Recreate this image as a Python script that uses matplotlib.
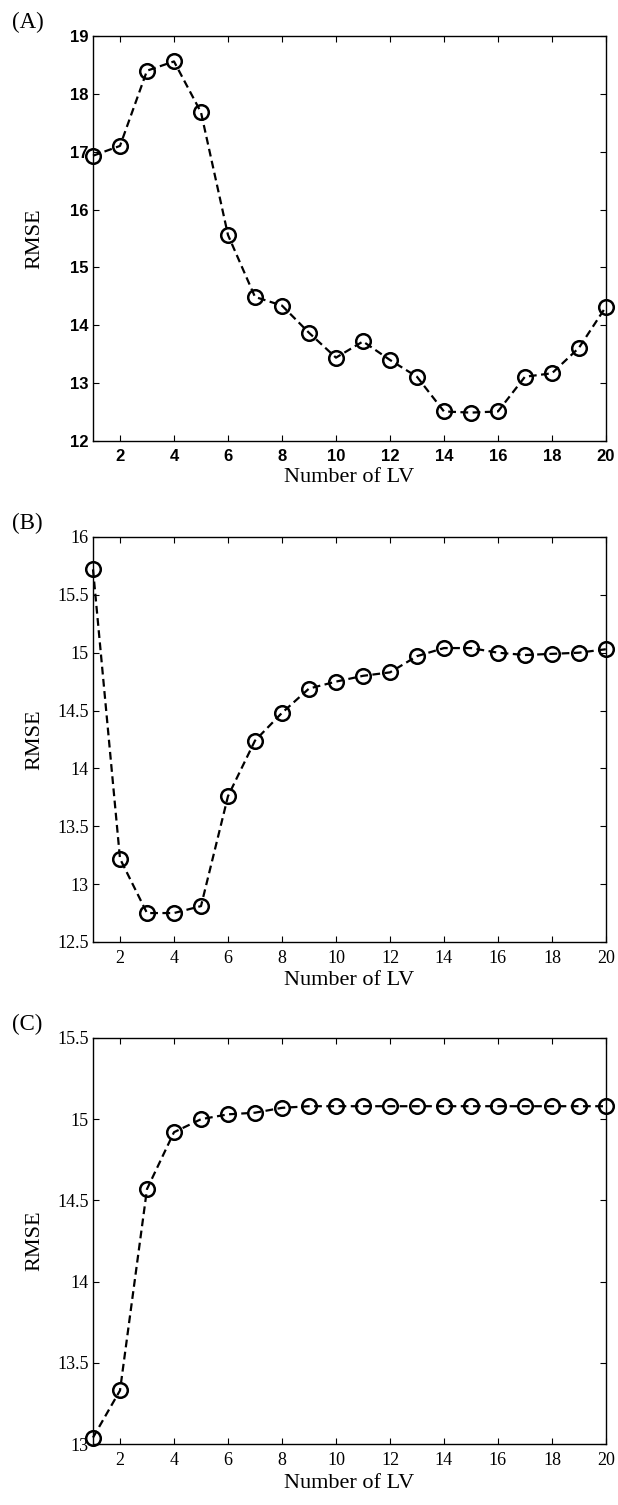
import matplotlib
matplotlib.use("Agg")
import matplotlib.pyplot as plt
import numpy as np

plt.rcParams['font.family'] = ['Liberation Serif', 'DejaVu Serif']

lv = np.arange(1, 21)

# RMSE against number of latent variables for the three models
rmse_a = [16.93, 17.10, 18.40, 18.56, 17.68, 15.56, 14.49, 14.34, 13.87, 13.44,
          13.72, 13.40, 13.11, 12.51, 12.49, 12.51, 13.11, 13.17, 13.61, 14.32]
rmse_b = [15.72, 13.22, 12.75, 12.75, 12.81, 13.76, 14.24, 14.48, 14.69, 14.75,
          14.80, 14.83, 14.97, 15.04, 15.04, 15.00, 14.98, 14.99, 15.00, 15.03]
rmse_c = [13.04, 13.33, 14.57, 14.92, 15.00, 15.03, 15.04, 15.07, 15.08, 15.08,
          15.08, 15.08, 15.08, 15.08, 15.08, 15.08, 15.08, 15.08, 15.08, 15.08]

panels = ['(A)', '(B)', '(C)']
ylims = [(12, 19), (12.5, 16), (13, 15.5)]
yticks = [np.arange(12, 19.1, 1), np.arange(12.5, 16.01, 0.5), np.arange(13, 15.51, 0.5)]
xticks = np.arange(2, 21, 2)

fig = plt.figure(figsize=(6.18, 15.05), dpi=100)
boxes = [[0.1505, 0.7070, 0.830, 0.2691],
         [0.1505, 0.3741, 0.830, 0.2691],
         [0.1505, 0.0405, 0.830, 0.2698]]

for i, data in enumerate([rmse_a, rmse_b, rmse_c]):
    ax = fig.add_axes(boxes[i])
    ax.plot(lv, data, color='black', linestyle=(0, (3.5, 2.0)), linewidth=1.6,
            marker='o', markersize=10.5, markerfacecolor='none',
            markeredgewidth=1.8, markeredgecolor='black', clip_on=False)
    ax.set_xlim(1, 20)
    ax.set_ylim(*ylims[i])
    ax.set_xticks(xticks)
    ax.set_yticks(yticks[i])
    if i == 0:
        ax.set_yticklabels(['%g' % t for t in yticks[i]],
                           family=['Liberation Sans Narrow', 'Liberation Sans'],
                           weight='bold', fontsize=12)
        ax.set_xticklabels(['%g' % t for t in xticks],
                           family=['Liberation Sans Narrow', 'Liberation Sans'],
                           weight='bold', fontsize=12)
    else:
        ax.set_yticklabels(['%g' % t for t in yticks[i]], fontsize=13)
        ax.set_xticklabels(['%g' % t for t in xticks], fontsize=13)
    ax.tick_params(direction='in', length=4, width=0.8, top=True, right=True, pad=6)
    ax.tick_params(axis='y', pad=3)
    for s in ax.spines.values():
        s.set_linewidth(1.0)
    ax.set_xlabel('Number of LV', fontsize=16, labelpad=3)
    ax.set_ylabel('RMSE', fontsize=16)
    ax.yaxis.set_label_coords(-0.095, 0.5)
    ax.text(-0.158, 1.008, panels[i], transform=ax.transAxes, fontsize=16.5,
            ha='left', va='bottom')

fig.savefig('out.png', dpi=100)
